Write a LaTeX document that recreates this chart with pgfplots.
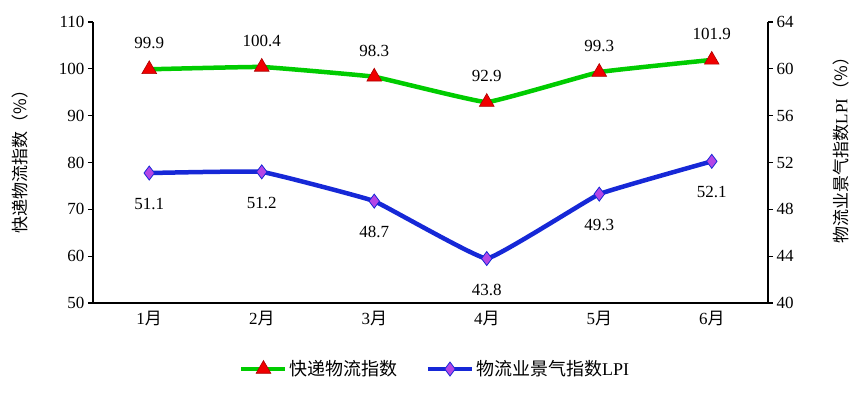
\documentclass[border=0pt]{standalone}
\usepackage{fontspec}
\setmainfont{Liberation Serif}
\newfontfamily\cjk{Noto Sans CJK SC}
\usepackage{pgfplots}
\pgfplotsset{compat=1.18}
\definecolor{cgreen}{RGB}{0,204,0}
\definecolor{cblue}{RGB}{22,40,215}
\definecolor{cred}{RGB}{240,0,0}
\definecolor{cdred}{RGB}{170,0,0}
\definecolor{cpurple}{RGB}{180,70,230}
\pgfplotsset{
  /pgf/number format/assume math mode=true,
  common/.style={
    at={(0,0)}, anchor=south west, scale only axis,
    width=675pt, height=281pt,
    xmin=-0.5, xmax=5.5,
    tick label style={font=\fontsize{17}{17}\selectfont},
    major tick length=5pt,
    tick align=outside,
    axis line style={line width=1.2pt},
    every tick/.style={line width=1.2pt, black},
    label style={font=\fontsize{17}{17}\selectfont\cjk},
  },
  legend image code/.code={
    \draw[mark repeat=2,mark phase=2,#1] plot coordinates {(0pt,0pt) (22pt,0pt) (44pt,0pt)};
  },
}
\begin{document}
\begin{tikzpicture}
\useasboundingbox (-93pt,-96pt) rectangle (772pt,303pt);
\begin{axis}[common,
  ymin=50, ymax=110, ytick={50,60,...,110},
  xtick={0,...,5},
  xticklabels={1{\cjk 月},2{\cjk 月},3{\cjk 月},4{\cjk 月},5{\cjk 月},6{\cjk 月}},
  xtick style={draw=none},
  axis y line*=left, axis x line*=bottom,
  ylabel={快递物流指数（\%）},
  ylabel style={at={(axis description cs:-0.108,0.518)}, anchor=center},
  nodes near coords,
  nodes near coords style={font=\fontsize{17}{17}\selectfont, anchor=center, yshift=26pt, black,
    /pgf/number format/.cd, fixed, fixed zerofill, precision=1},
]
\addplot[cgreen, line width=4.5pt, smooth, tension=0.15,
  mark=triangle*, mark size=8.5pt,
  mark options={fill=cred, draw=cdred, line width=0.6pt}]
  coordinates {(0,99.9) (1,100.4) (2,98.3) (3,92.9) (4,99.3) (5,101.9)};
\end{axis}
\begin{axis}[common,
  ymin=40, ymax=64, ytick={40,44,...,64},
  axis y line*=right, axis x line=none,
  ylabel={物流业景气指数{\normalfont LPI}（\%）},
  ylabel style={at={(axis description cs:1.108,0.559)}, anchor=center},
  nodes near coords,
  nodes near coords style={font=\fontsize{17}{17}\selectfont, anchor=center, yshift=-31pt, black,
    /pgf/number format/.cd, fixed, fixed zerofill, precision=1},
  legend style={at={(0.507,-0.235)}, anchor=center, draw=none, fill=none,
    legend columns=2, font=\fontsize{18}{18}\selectfont\cjk,
    /tikz/every even column/.append style={column sep=26pt},
    legend cell align=left},
]
\addlegendimage{cgreen, line width=4.5pt, mark=triangle*, mark size=8.5pt,
  mark options={fill=cred, draw=cdred, line width=0.6pt}}
\addlegendentry{快递物流指数}
\addplot[cblue, line width=4.5pt, smooth, tension=0.15,
  mark=diamond*, mark size=7pt,
  mark options={fill=cpurple, draw=cblue, line width=0.8pt}]
  coordinates {(0,51.1) (1,51.2) (2,48.7) (3,43.8) (4,49.3) (5,52.1)};
\addlegendentry{物流业景气指数{\normalfont LPI}}
\end{axis}
\end{tikzpicture}
\end{document}
